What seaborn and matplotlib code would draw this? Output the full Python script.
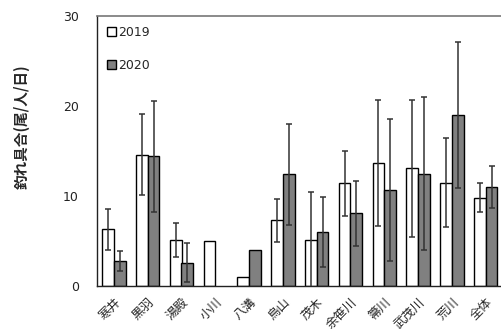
import numpy as np
import pandas as pd
import matplotlib
matplotlib.use("Agg")
import matplotlib.pyplot as plt
import seaborn as sns

# Catch rate per river (fish / angler / day), mean and spread
rivers = ["寒井", "黒羽", "湯殿", "小川", "八溝", "烏山", "茂木", "余笹川", "箒川", "武茂川", "荒川", "全体"]
years = ["2019", "2020"]
catch_2019 = [6.3, 14.6, 5.1, 5.0, 1.0, 7.3, 5.1, 11.4, 13.7, 13.1, 11.5, 9.8]
catch_2020 = [2.8, 14.4, 2.6, np.nan, 4.0, 12.4, 6.0, 8.1, 10.7, 12.5, 19.0, 11.0]
err_2019 = [2.3, 4.5, 1.9, np.nan, np.nan, 2.4, 5.4, 3.6, 7.0, 7.6, 4.9, 1.6]
err_2020 = [1.1, 6.2, 2.2, np.nan, np.nan, 5.6, 3.9, 3.6, 7.9, 8.5, 8.1, 2.3]
y_ticks = [0, 10, 20, 30]

sns.set_theme(style="white")
plt.rcParams["font.family"] = ["DejaVu Sans", "Noto Sans CJK JP"]
JP = ["Noto Sans CJK JP", "DejaVu Sans"]

df = pd.DataFrame({
    "river": rivers * 2,
    "year": [years[0]] * len(rivers) + [years[1]] * len(rivers),
    "catch": catch_2019 + catch_2020,
    "err": err_2019 + err_2020,
})

fig = plt.figure(figsize=(5.02, 3.29), dpi=100)
ax = fig.add_axes([97 / 502, 43 / 329, 405.6 / 502, 270 / 329])

sns.barplot(
    data=df, x="river", y="catch", hue="year", order=rivers, hue_order=years,
    palette={"2019": "white", "2020": "#808080"}, saturation=1,
    edgecolor="black", linewidth=1.0, width=0.69, errorbar=None, ax=ax,
)

# error bars placed on the drawn bars
for year, container in zip(years, ax.containers):
    sub = df[df["year"] == year].set_index("river")
    for bar in container:
        h = bar.get_height()
        if not np.isfinite(h):
            continue
        xc = bar.get_x() + bar.get_width() / 2
        river = rivers[int(round(xc))]
        e = sub.loc[river, "err"]
        if np.isfinite(e):
            ax.errorbar(xc, h, yerr=e, fmt="none", ecolor="#333333",
                        elinewidth=1.1, capsize=2.0, capthick=1.1, zorder=5)

ax.set_xlim(-0.5, len(rivers) - 0.5)
ax.set_ylim(0, 30)
ax.set_yticks(y_ticks)
ax.tick_params(axis="y", direction="in", length=3, width=0.8, pad=13,
               labelsize=9, colors="#222222")

ax.set_xticks(range(len(rivers)))
ax.set_xticklabels(rivers, rotation=45, ha="right", rotation_mode="anchor",
                   fontsize=9, family=JP)
ax.tick_params(axis="x", which="major", length=0, pad=7)
ax.set_xticks(np.arange(-0.5, len(rivers), 1.0), minor=True)
ax.tick_params(axis="x", which="minor", direction="in", length=3, width=0.8,
               color="#222222")
ax.set_xlabel("")

ax.set_ylabel("釣れ具合(尾/人/日)", fontsize=10.5, fontweight="bold", family=JP)
ax.yaxis.set_label_coords(-0.165, 0.59)

for side in ["left", "bottom"]:
    ax.spines[side].set_color("#222222")
    ax.spines[side].set_linewidth(1.0)
ax.spines["top"].set_color("#777777")
ax.spines["top"].set_linewidth(1.2)
ax.spines["right"].set_visible(False)

ax.legend(loc="upper left", frameon=False, fontsize=9, labelspacing=1.6,
          handlelength=0.7, handleheight=0.7, handletextpad=0.2,
          borderaxespad=0.4, bbox_to_anchor=(0.0, 1.0))

fig.savefig("out.png", dpi=100)
